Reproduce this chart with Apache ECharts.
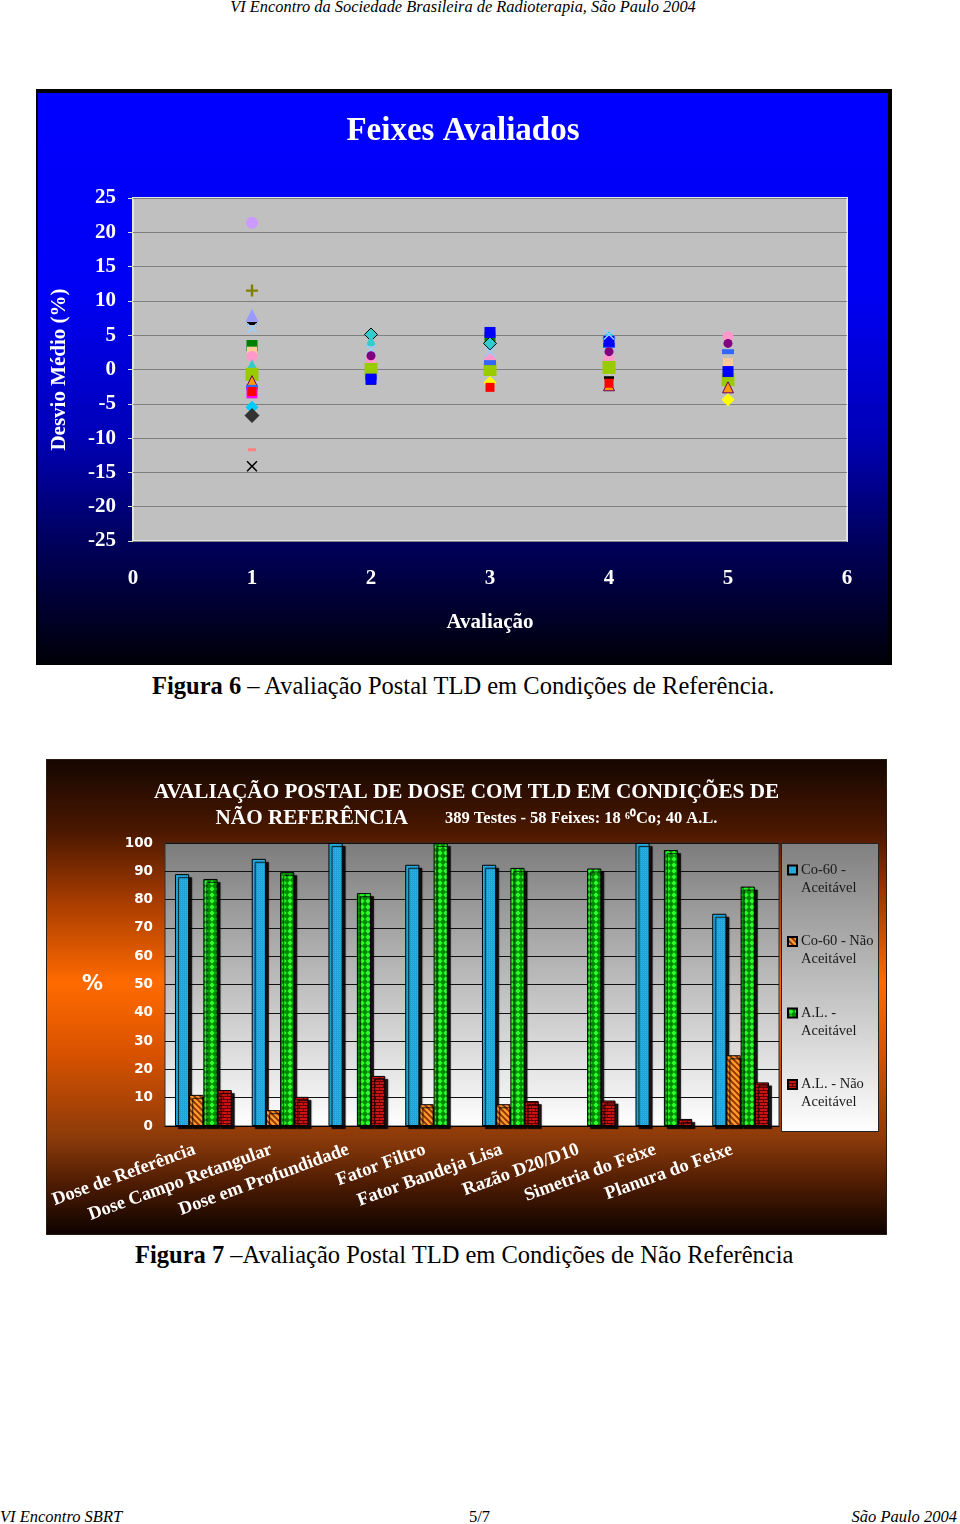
<!DOCTYPE html>
<html>
<head>
<meta charset="utf-8">
<script src="https://cdn.jsdelivr.net/npm/echarts@6/dist/echarts.min.js"></script>
<style>
  html, body { margin:0; padding:0; background:#fff; }
  body { width:960px; height:1524px; position:relative; overflow:hidden; font-family:'Liberation Serif','Times New Roman',serif; color:#000; }
  .txt { position:absolute; white-space:nowrap; }
  #c1 { position:absolute; left:36px; top:89px; width:856px; height:576px; box-sizing:border-box; border:2px solid #000; border-top-width:4px; border-right-width:4px; }
  #c2 { position:absolute; left:47px; top:760px; width:839px; height:474px; outline:1px solid #2a1a10; }
</style>
</head>
<body>
<div class="txt" style="left:0;width:926px;text-align:center;top:-3px;font-size:16.4px;font-style:italic;line-height:20px;">VI Encontro da Sociedade Brasileira de Radioterapia, São Paulo 2004</div>
<div id="c1"></div>
<div class="txt" style="left:152px;top:671px;font-size:24.5px;line-height:30px;"><b>Figura 6</b> – Avaliação Postal TLD em Condições de Referência.</div>
<div id="c2"></div>
<div class="txt" style="left:135px;top:1240px;font-size:24.5px;line-height:30px;"><b>Figura 7</b> –Avaliação Postal TLD em Condições de Não Referência</div>
<div class="txt" style="left:0;top:1507px;font-size:16.5px;font-style:italic;line-height:20px;">VI Encontro SBRT</div>
<div class="txt" style="left:469px;top:1507px;font-size:16.5px;line-height:20px;">5/7</div>
<div class="txt" style="right:3px;top:1507px;font-size:16.5px;font-style:italic;line-height:20px;">São Paulo 2004</div>

<script>
// ---------------- Figure 6 data ----------------
const avaliacoes = [1, 2, 3, 4, 5];
const yTicks1 = [-25, 25, 5];
const feixeA = [21.4, null, null, null, null];
const feixeB = [11.5, null, null, null, null];
const feixeC = [7.9, null, null, null, null];
const feixeD = [6.7, -2.0, null, -1.2, null];
const feixeE = [3.5, null, 4.7, null, null];
const feixeF = [null, 5.1, 3.8, null, null];
const feixeG = [2.6, null, null, null, 0.9];
const feixeH = [1.9, 1.5, 1.5, 1.7, 4.8];
const feixeI = [0.7, 4.2, null, null, null];
const feixeJ = [-0.7, 0.0, 0.0, 0.3, -1.5];
const feixeK = [-1.7, null, null, -2.3, -2.6];
const feixeL = [-2.6, -1.2, 1.0, 3.5, 2.6];
const feixeM = [-3.4, null, null, null, null];
const feixeN = [-5.5, null, null, 4.6, null];
const feixeO = [-6.7, null, null, null, null];
const feixeP = [-11.7, null, null, null, null];
const feixeQ = [-14.1, null, null, null, null];
const feixeR = [null, -1.4, 5.4, 4.1, -0.3];
const feixeS = [6.0, 2.9, 2.6, 5.1, null];
const feixeT = [null, 2.0, null, 2.6, 3.8];
const feixeU = [null, null, -1.9, null, -4.4];
const feixeV = [-3.2, null, -2.6, -2.0, null];

// ---------------- Figure 7 data ----------------
const categorias = ['Dose de Referência', 'Dose Campo Retangular', 'Dose em Profundidade', 'Fator Filtro', 'Fator Bandeja Lisa', 'Razão D20/D10', 'Simetria do Feixe', 'Planura do Feixe'];
const co60Aceitavel    = [89.0, 94.4, 100, 92.3, 92.3, null, 100, 75.0];
const co60NaoAceitavel = [11.0, 5.6, null, 7.7, 7.7, null, null, 25.0];
const alAceitavel      = [87.3, 89.7, 82.3, 100, 91.2, 91.0, 97.5, 84.6];
const alNaoAceitavel   = [12.7, 10.3, 17.7, null, 8.8, 9.0, 2.5, 15.4];
const yTicks2 = [0, 100, 10];

// ---------------- styles ----------------
const SERIF = 'Liberation Serif';
const plusPath = 'path://M4,0H6V4H10V6H6V10H4V6H0V4H4Z';
const xPath = 'path://M1,0L5,4L9,0L10,1L6,5L10,9L9,10L5,6L1,10L0,9L4,5L0,1Z';

const scatterDefs = [
  [feixeA, '#cc99ff', 'circle', 12],
  [feixeB, '#808000', plusPath, 12],
  [feixeC, '#9999ff', 'triangle', 13],
  [feixeD, '#000000', 'rect', [10, 3]],
  [feixeE, '#008000', 'rect', 11],
  [feixeF, '#33cccc', 'diamond', 13, '#000'],
  [feixeG, '#ffcc99', 'rect', 10],
  [feixeH, '#ff99cc', 'circle', 11],
  [feixeI, '#33cccc', 'triangle', 11],
  [feixeJ, '#99cc00', 'rect', 13],
  [feixeK, '#ff9900', 'triangle', 11, '#660066'],
  [feixeL, '#3366ff', 'rect', [12, 5]],
  [feixeM, '#ff00ff', 'rect', 11],
  [feixeN, '#00ccff', 'diamond', 13],
  [feixeO, '#333333', 'diamond', 15],
  [feixeP, '#ff8080', 'rect', [8, 3]],
  [feixeQ, '#000000', xPath, 11],
  [feixeR, '#0000ff', 'rect', 11],
  [feixeS, '#99ccff', xPath, 11],
  [feixeT, '#800080', 'circle', 9],
  [feixeU, '#ffff00', 'diamond', 13],
  [feixeV, '#ff0000', 'rect', 9]
];

const chart1 = echarts.init(document.getElementById('c1'));
chart1.setOption({
  animation: false,
  backgroundColor: { type: 'linear', x: 0, y: 0, x2: 0, y2: 1, colorStops: [
    { offset: 0, color: '#0000ff' }, { offset: 0.35, color: '#0000f4' },
    { offset: 0.6, color: '#0000b8' }, { offset: 0.78, color: '#000060' }, { offset: 1, color: '#000008' }] },
  title: { text: 'Feixes Avaliados', left: 'center', top: 17, padding: [5, 6, 5, 0],
    textStyle: { color: '#fff', fontFamily: SERIF, fontWeight: 'bold', fontSize: 33 } },
  grid: { left: 95, right: 41, top: 105, bottom: 122, outerBoundsMode: 'none', containLabel: false,
    show: true, backgroundColor: '#c0c0c0', borderColor: '#e4e4e4', borderWidth: 2 },
  xAxis: { type: 'value', min: 0, max: 6, interval: 1,
    name: 'Avaliação', nameLocation: 'middle', nameGap: 71,
    nameTextStyle: { color: '#fff', fontFamily: SERIF, fontWeight: 'bold', fontSize: 21 },
    axisLine: { show: false }, axisTick: { show: true, length: 6, lineStyle: { color: '#dcdcdc' } },
    splitLine: { show: false },
    axisLabel: { margin: 27, color: '#fff', fontFamily: SERIF, fontWeight: 'bold', fontSize: 21 } },
  yAxis: { type: 'value', min: yTicks1[0], max: yTicks1[1], interval: yTicks1[2],
    name: 'Desvio Médio (%)', nameLocation: 'middle', nameGap: 63,
    nameTextStyle: { color: '#fff', fontFamily: SERIF, fontWeight: 'bold', fontSize: 21 },
    axisLine: { show: false }, axisTick: { show: true, length: 5, lineStyle: { color: '#dcdcdc' } },
    splitLine: { show: true, lineStyle: { color: '#808080', width: 1 } },
    axisLabel: { margin: 17, color: '#fff', fontFamily: SERIF, fontWeight: 'bold', fontSize: 21 } },
  series: scatterDefs.map((d, i) => ({
    type: 'scatter', name: 'Feixe ' + (i + 1),
    symbol: d[2], symbolSize: d[3],
    itemStyle: { color: d[1], opacity: 1, borderColor: d[4] || d[1], borderWidth: d[4] ? 1 : 0 },
    data: avaliacoes.map((x, k) => d[0][k] == null ? null : [x, d[0][k]]).filter(p => p)
  }))
});

// ---------- Figure 7 patterns ----------
function tile(w, h, draw) {
  const c = document.createElement('canvas'); c.width = w; c.height = h;
  draw(c.getContext('2d')); return { image: c, repeat: 'repeat' };
}
const patBlue = tile(2, 2, g => { g.fillStyle = '#1ea4d8'; g.fillRect(0, 0, 2, 2); g.fillStyle = '#36b4e4'; g.fillRect(0, 0, 1, 1); });
const patOrange = tile(6, 6, g => {
  g.fillStyle = '#8c3300'; g.fillRect(0, 0, 6, 6);
  g.strokeStyle = '#ff9a2a'; g.lineWidth = 2.4; g.beginPath();
  for (let k = -1; k <= 1; k++) { g.moveTo(-1, -1 + 6 * k); g.lineTo(7, 7 + 6 * k); }
  g.stroke();
});
const patGreen = tile(6, 6, g => {
  g.fillStyle = '#008a00'; g.fillRect(0, 0, 6, 6);
  g.fillStyle = '#2cff2c'; g.beginPath(); g.moveTo(3, 0.3); g.lineTo(5.7, 3); g.lineTo(3, 5.7); g.lineTo(0.3, 3); g.closePath(); g.fill();
});
const patRed = tile(8, 6, g => {
  g.fillStyle = '#c81414'; g.fillRect(0, 0, 8, 6);
  g.fillStyle = '#5a0000'; g.fillRect(0, 0, 8, 1); g.fillRect(0, 3, 8, 1);
  g.fillRect(0, 0, 1, 3); g.fillRect(4, 3, 1, 3);
});

const barStyle = c => ({ color: c, borderColor: '#000', borderWidth: 1, shadowColor: 'rgba(0,0,0,0.9)', shadowBlur: 1, shadowOffsetX: 3, shadowOffsetY: 3 });

const chart2 = echarts.init(document.getElementById('c2'));
chart2.setOption({
  animation: false,
  backgroundColor: { type: 'linear', x: 0, y: 0, x2: 0, y2: 1, colorStops: [
    { offset: 0, color: '#160600' }, { offset: 0.15, color: '#4a1800' }, { offset: 0.3, color: '#a83c00' },
    { offset: 0.47, color: '#ff6a00' }, { offset: 0.62, color: '#d85200' }, { offset: 0.8, color: '#8a3a0a' },
    { offset: 0.9, color: '#4a1a02' }, { offset: 1, color: '#0e0300' }] },
  title: {
    text: '{a|AVALIAÇÃO POSTAL DE DOSE COM TLD EM CONDIÇÕES DE}\n{a|NÃO REFERÊNCIA}{s|389 Testes - 58 Feixes: 18 ⁶⁰Co; 40 A.L.}',
    left: 'center', top: 15,
    textStyle: { color: '#fff', rich: {
      a: { color: '#fff', fontFamily: SERIF, fontWeight: 'bold', fontSize: 21.2, lineHeight: 26 },
      s: { color: '#fff', fontFamily: SERIF, fontWeight: 'bold', fontSize: 16.5, lineHeight: 26, padding: [0, 0, 0, 37] } } }
  },
  grid: { left: 118, right: 107, top: 83, bottom: 108, outerBoundsMode: 'none', containLabel: false, show: true,
    backgroundColor: { type: 'linear', x: 0, y: 0, x2: 0, y2: 1, colorStops: [{ offset: 0, color: '#7c7c7c' }, { offset: 1, color: '#ffffff' }] },
    borderColor: '#333', borderWidth: 1 },
  graphic: [{ type: 'rect', left: 734, top: 83, shape: { width: 97, height: 288 },
    style: { fill: { type: 'linear', x: 0, y: 0, x2: 0, y2: 1, colorStops: [{ offset: 0, color: '#808080' }, { offset: 1, color: '#ffffff' }] },
      stroke: '#222', lineWidth: 1 } }],
  legend: { orient: 'vertical', left: 740, top: 83, padding: 0, itemGap: 17.5, itemWidth: 9, itemHeight: 9, icon: 'rect',
    formatter: n => ' \n' + n.replace(/ Aceitável$/, '\nAceitável'),
    textStyle: { color: '#1a1a1a', fontFamily: SERIF, fontSize: 14.5, lineHeight: 18, padding: [0, 0, 0, -1] } },
  xAxis: { type: 'category', data: categorias,
    axisLine: { lineStyle: { color: '#000' } }, axisTick: { show: false },
    axisLabel: { interval: 0, rotate: 20, margin: 20, padding: [0, 9, 0, 0], color: '#fff', fontFamily: SERIF, fontWeight: 'bold', fontSize: 18.5 } },
  yAxis: { type: 'value', min: yTicks2[0], max: yTicks2[1], interval: yTicks2[2],
    name: '%', nameLocation: 'middle', nameGap: 62, nameRotate: 0,
    nameTextStyle: { color: '#fff', fontFamily: 'DejaVu Sans', fontWeight: 'bold', fontSize: 21 },
    axisLine: { show: false }, axisTick: { show: false },
    splitLine: { lineStyle: { color: '#111', width: 1 } },
    axisLabel: { margin: 12, color: '#fff', fontFamily: 'DejaVu Sans', fontWeight: 'bold', fontSize: 13.5 } },
  series: [
    { type: 'bar', name: 'Co-60 - Aceitável', data: co60Aceitavel, itemStyle: barStyle(patBlue), barGap: '0%', barCategoryGap: '26%' },
    { type: 'bar', name: 'Co-60 - Não Aceitável', data: co60NaoAceitavel, itemStyle: barStyle(patOrange) },
    { type: 'bar', name: 'A.L. - Aceitável', data: alAceitavel, itemStyle: barStyle(patGreen) },
    { type: 'bar', name: 'A.L. - Não Aceitável', data: alNaoAceitavel, itemStyle: barStyle(patRed) }
  ]
});
</script>
</body>
</html>
